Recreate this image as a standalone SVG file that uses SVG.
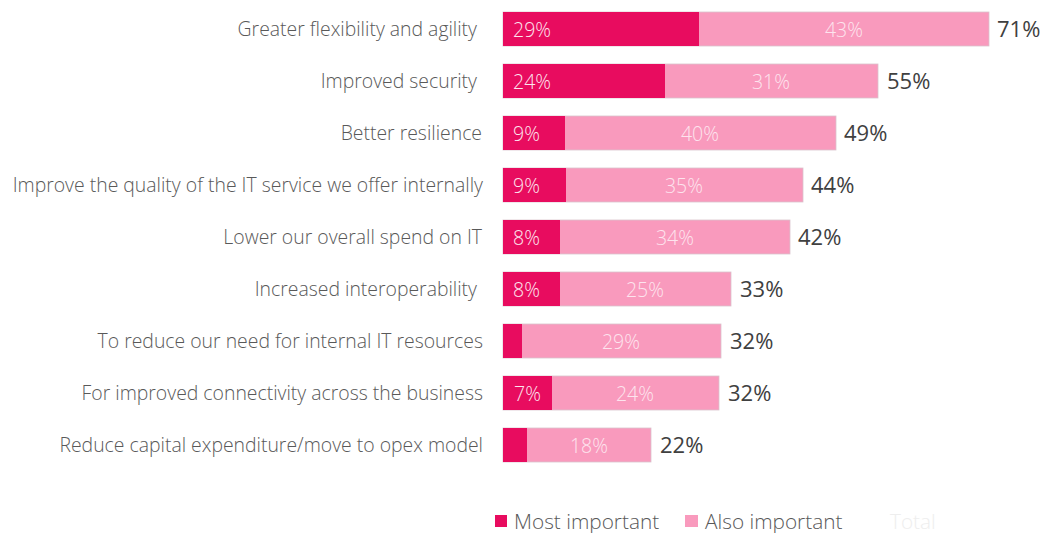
<svg xmlns="http://www.w3.org/2000/svg" width="1041" height="533" viewBox="0 0 1041 533">
<style>
.lbl{font-family:"Open Sans","Liberation Sans",sans-serif;font-weight:300;font-size:19.4px;fill:#595959;text-anchor:end}
.in{font-family:"Open Sans","Liberation Sans",sans-serif;font-weight:300;font-size:19.5px;fill:#fde4ee}
.tot{font-family:"Open Sans","Liberation Sans",sans-serif;font-weight:400;font-size:22px;fill:#404040}
.dk{fill:#e80c5f}
.lt{fill:#f99abd;stroke:#d9c3cc;stroke-width:0.8}
.leg{font-family:"Open Sans","Liberation Sans",sans-serif;font-weight:300;font-size:20.8px;fill:#595959}
</style>
<rect width="1041" height="533" fill="#ffffff"/>
<g id="row1"><rect class="lt" x="503" y="12" width="486" height="34"/><rect class="dk" x="503" y="12" width="196" height="34"/><text class="lbl" x="477" y="36">Greater flexibility and agility</text><text class="in" x="513" y="37">29%</text><text class="in" x="844" y="37" text-anchor="middle">43%</text><text class="tot" x="997" y="37">71%</text></g>
<g id="row2"><rect class="lt" x="503" y="64" width="375" height="34"/><rect class="dk" x="503" y="64" width="162" height="34"/><text class="lbl" x="477" y="88">Improved security</text><text class="in" x="513" y="89">24%</text><text class="in" x="771" y="89" text-anchor="middle">31%</text><text class="tot" x="887" y="89">55%</text></g>
<g id="row3"><rect class="lt" x="503" y="116" width="333" height="34"/><rect class="dk" x="503" y="116" width="62" height="34"/><text class="lbl" x="482" y="140">Better resilience</text><text class="in" x="513" y="141">9%</text><text class="in" x="700" y="141" text-anchor="middle">40%</text><text class="tot" x="844" y="141">49%</text></g>
<g id="row4"><rect class="lt" x="503" y="168" width="300" height="34"/><rect class="dk" x="503" y="168" width="63" height="34"/><text class="lbl" x="483" y="192">Improve the quality of the IT service we offer internally</text><text class="in" x="513" y="193">9%</text><text class="in" x="684" y="193" text-anchor="middle">35%</text><text class="tot" x="811" y="193">44%</text></g>
<g id="row5"><rect class="lt" x="503" y="220" width="287" height="34"/><rect class="dk" x="503" y="220" width="57" height="34"/><text class="lbl" x="482" y="244">Lower our overall spend on IT</text><text class="in" x="513" y="245">8%</text><text class="in" x="675" y="245" text-anchor="middle">34%</text><text class="tot" x="798" y="245">42%</text></g>
<g id="row6"><rect class="lt" x="503" y="272" width="228" height="34"/><rect class="dk" x="503" y="272" width="57" height="34"/><text class="lbl" x="477" y="296">Increased interoperability</text><text class="in" x="513" y="297">8%</text><text class="in" x="645" y="297" text-anchor="middle">25%</text><text class="tot" x="740" y="297">33%</text></g>
<g id="row7"><rect class="lt" x="503" y="324" width="218" height="34"/><rect class="dk" x="503" y="324" width="19" height="34"/><text class="lbl" x="483" y="348">To reduce our need for internal IT resources</text><text class="in" x="621" y="349" text-anchor="middle">29%</text><text class="tot" x="730" y="349">32%</text></g>
<g id="row8"><rect class="lt" x="503" y="376" width="216" height="34"/><rect class="dk" x="503" y="376" width="49" height="34"/><text class="lbl" x="483" y="400">For improved connectivity across the business</text><text class="in" x="514" y="401">7%</text><text class="in" x="635" y="401" text-anchor="middle">24%</text><text class="tot" x="728" y="401">32%</text></g>
<g id="row9"><rect class="lt" x="503" y="428" width="148" height="34"/><rect class="dk" x="503" y="428" width="24" height="34"/><text class="lbl" x="483" y="452">Reduce capital expenditure/move to opex model</text><text class="in" x="589" y="453" text-anchor="middle">18%</text><text class="tot" x="660" y="453">22%</text></g>
<g id="legend"><rect class="dk" x="495" y="515" width="12" height="12"/><text class="leg" x="514" y="529">Most important</text><rect x="685" y="515" width="13" height="12" fill="#f99abd"/><text class="leg" x="705" y="529">Also important</text><text class="leg" x="890" y="529" style="fill:#eeeeee">Total</text></g>
<g id="connectors"/>
</svg>
